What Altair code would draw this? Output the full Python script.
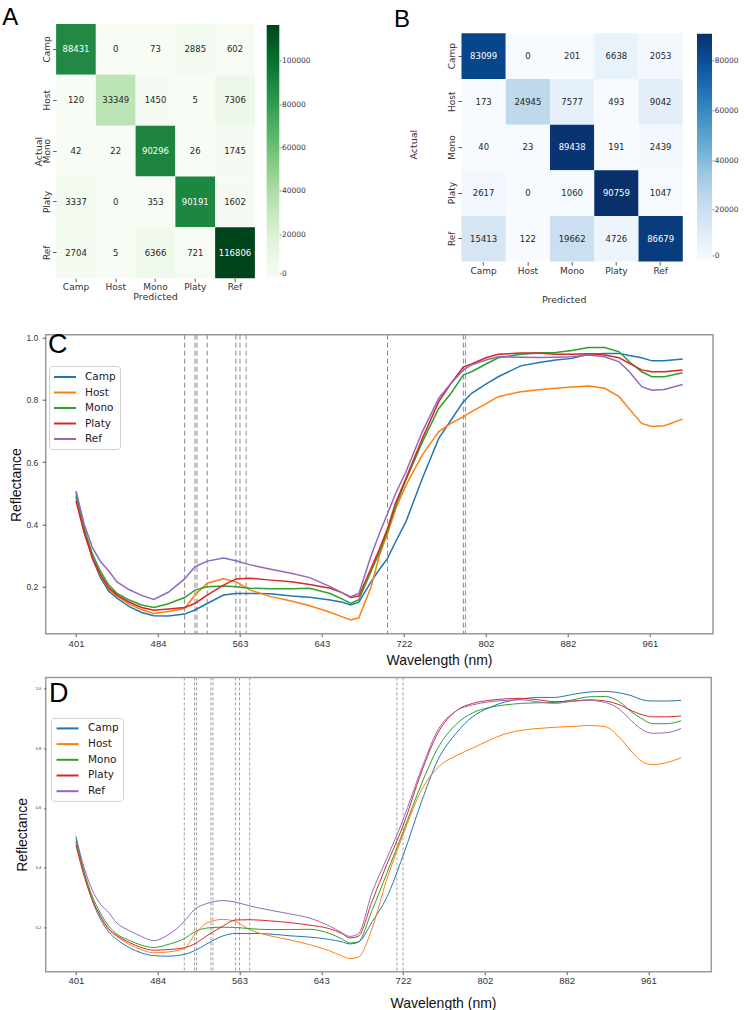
import altair as alt
import pandas as pd

# ---------------- data ----------------
classes = ["Camp", "Host", "Mono", "Platy", "Ref"]

cm_a = [
    [88431, 0, 73, 2885, 602],
    [120, 33349, 1450, 5, 7306],
    [42, 22, 90296, 26, 1745],
    [3337, 0, 353, 90191, 1602],
    [2704, 5, 6366, 721, 116806],
]
cm_b = [
    [83099, 0, 201, 6638, 2053],
    [173, 24945, 7577, 493, 9042],
    [40, 23, 89438, 191, 2439],
    [2617, 0, 1060, 90759, 1047],
    [15413, 122, 19662, 4726, 86679],
]
cbar_ticks_a = [0, 20000, 40000, 60000, 80000, 100000]
cbar_ticks_b = [0, 20000, 40000, 60000, 80000]

# ColorBrewer 9-class sequential ramps (matplotlib "Greens" / "Blues")
greens9 = ["#f7fcf5", "#e5f5e0", "#c7e9c0", "#a1d99b", "#74c476", "#41ab5d",
           "#238b45", "#006d2c", "#00441b"]
blues9 = ["#f7fbff", "#deebf7", "#c6dbef", "#9ecae1", "#6baed6", "#4292c6",
          "#2171b5", "#08519c", "#08306b"]

tab10 = ["#1f77b4", "#ff7f0e", "#2ca02c", "#d62728", "#9467bd"]

tick_bands = [0, 40, 80, 120, 160, 200, 240, 280]
tick_labels = ["401", "484", "563", "643", "722", "802", "882", "961"]
refl_ticks = [0.2, 0.4, 0.6, 0.8, 1.0]

# panel C (band index -> reflectance)
bands_c = [0, 4, 8, 12, 16, 20, 26, 32, 38, 45, 53, 58, 64, 72, 78, 85, 95, 105, 114,
           124, 130, 134, 138, 144, 148, 152, 156, 161, 169, 177, 183, 189, 193, 200,
           206, 217, 226, 234, 242, 250, 258, 265, 270, 276, 281, 287, 296]
c_camp = [.500, .385, .290, .228, .185, .163, .136, .117, .107,
          .106, .112, .125, .146, .173, .178, .178, .177, .170, .166,
          .157, .150, .141, .150, .216, .255, .291, .345, .409, .548,
          .676, .735, .794, .821, .850, .874, .909, .920, .928, .933,
          .946, .949, .949, .942, .935, .925, .925, .931]
c_host = [.485, .378, .295, .236, .192, .170, .144, .126, .114,
          .120, .130, .173, .211, .225, .216, .189, .168, .154, .139,
          .118, .103, .093, .100, .200, .300, .370, .450, .526, .623,
          .698, .724, .746, .762, .787, .810, .826, .832, .837, .841,
          .844, .837, .810, .770, .724, .714, .717, .738]
c_mono = [.490, .385, .305, .248, .205, .178, .157, .141, .133,
          .145, .165, .189, .200, .202, .200, .195, .193, .193, .195,
          .178, .160, .146, .158, .250, .310, .380, .460, .543, .665,
          .772, .821, .880, .890, .915, .935, .946, .950, .952, .958,
          .968, .968, .954, .922, .890, .874, .874, .887]
c_platy = [.475, .372, .292, .238, .196, .173, .150, .133, .124,
           .128, .133, .146, .173, .205, .225, .227, .221, .216, .207,
           .195, .180, .165, .170, .260, .320, .387, .470, .548, .676,
           .794, .853, .906, .915, .935, .946, .950, .950, .946, .946,
           .948, .944, .935, .917, .896, .890, .890, .896]
c_ref = [.507, .400, .325, .280, .250, .215, .190, .172, .159,
         .182, .225, .264, .282, .292, .283, .270, .256, .243, .229,
         .200, .180, .168, .178, .300, .370, .435, .500, .569, .698,
         .805, .853, .896, .912, .928, .938, .937, .936, .937, .938,
         .944, .938, .922, .890, .842, .831, .833, .849]
dash_c = [53, 58, 59, 64, 78, 80, 83, 152, 189, 190]

# panel D
bands_d = [0, 4, 8, 12, 16, 20, 26, 32, 38, 45, 53, 58, 64, 72, 78, 85, 95, 105, 114,
           124, 130, 134, 138, 145, 152, 160, 169, 177, 186, 194, 202, 210, 218, 226,
           234, 243, 251, 259, 266, 272, 277, 282, 289, 296]
d_camp = [.500, .385, .290, .228, .185, .160, .133, .115, .106,
          .104, .110, .122, .145, .172, .180, .180, .178, .172, .168,
          .160, .152, .145, .150, .220, .300, .440, .620, .760, .850,
          .905, .935, .955, .965, .970, .970, .980, .988, .990, .985,
          .975, .962, .958, .958, .960]
d_host = [.485, .378, .295, .236, .192, .170, .144, .126, .115,
          .118, .130, .175, .215, .227, .220, .193, .172, .158, .143,
          .122, .105, .096, .100, .200, .360, .510, .660, .735, .775,
          .800, .826, .848, .860, .866, .870, .873, .876, .872, .835,
          .787, .755, .745, .752, .768]
d_mono = [.490, .385, .305, .248, .205, .178, .157, .141, .133,
          .143, .163, .185, .198, .201, .200, .196, .193, .193, .194,
          .180, .162, .148, .152, .260, .380, .520, .680, .800, .880,
          .918, .936, .945, .950, .952, .953, .962, .972, .973, .955,
          .920, .898, .882, .882, .892]
d_platy = [.475, .372, .292, .238, .196, .173, .150, .133, .124,
           .126, .132, .145, .172, .205, .225, .226, .222, .216, .208,
           .196, .180, .165, .170, .290, .410, .540, .720, .850, .925,
           .950, .960, .965, .967, .962, .956, .958, .962, .958, .945,
           .925, .912, .905, .905, .908]
d_ref = [.505, .400, .325, .278, .250, .215, .190, .170, .156,
         .175, .220, .260, .280, .290, .285, .272, .258, .245, .232,
         .205, .183, .170, .178, .320, .430, .560, .730, .860, .925,
         .945, .955, .960, .962, .955, .950, .957, .960, .953, .930,
         .890, .862, .850, .852, .866]
dash_d = [53, 58, 59, 66, 67, 78, 80, 85, 157, 160]

# ---------------- helpers ----------------
DJ = "DejaVu Sans"
LIB = "Liberation Sans"


def panel_title(letter, offset, dx, size):
    return alt.TitleParams(text=letter, anchor="start", frame="group", orient="top",
                           offset=offset, dx=dx, baseline="alphabetic", font=LIB,
                           fontSize=size, fontWeight="normal", color="black")


def letter_axis(letter, tx, ty):
    return alt.Axis(orient="top", labels=False, ticks=False, domain=False,
                    title=letter, titleFont=LIB, titleFontSize=24,
                    titleFontWeight="normal", titleColor="black", titleX=tx,
                    titleY=ty, titleAlign="left", titleBaseline="alphabetic",
                    titleAngle=0)


def cm_frame(cm, field):
    rows = []
    for i, actual in enumerate(classes):
        for j, pred in enumerate(classes):
            rows.append({"Actual": actual, "Predicted": pred, field: cm[i][j]})
    return pd.DataFrame(rows)


def x_axis(offset, tx, ty, lab_pad):
    return alt.Axis(orient="bottom", offset=offset, title="Predicted", labelAngle=0,
                    domain=False, tickSize=3.5, tickColor="#333", tickWidth=0.8,
                    labelFont=DJ, labelFontSize=9, labelColor="#333",
                    labelPadding=lab_pad, titleFont=DJ, titleFontSize=9.5,
                    titleFontWeight="normal", titleColor="#333", titleX=tx, titleY=ty,
                    titleBaseline="middle")


def y_axis(offset, tx, ty, lab_pad):
    return alt.Axis(orient="left", offset=offset, title="Actual", labelAngle=270,
                    labelAlign="center", labelBaseline="bottom", domain=False,
                    tickSize=3.5, tickColor="#333", tickWidth=0.8, labelFont=DJ,
                    labelFontSize=9, labelColor="#333", labelPadding=lab_pad,
                    titleFont=DJ, titleFontSize=9.5, titleFontWeight="normal",
                    titleColor="#333", titleX=tx, titleY=ty, titleBaseline="middle",
                    titleAngle=270)


def cm_rect(df, field, ramp, vmax, ticks, xr, yr, xax, yax, lx, ly, llen, lthick):
    stops = [vmax * k / (len(ramp) - 1) for k in range(len(ramp))]
    return alt.Chart(df).mark_rect().encode(
        x=alt.X("Predicted:N", sort=classes, axis=xax, scale=alt.Scale(range=xr)),
        y=alt.Y("Actual:N", sort=classes, axis=yax, scale=alt.Scale(range=yr)),
        color=alt.Color(f"{field}:Q",
                        scale=alt.Scale(domain=stops, range=ramp, interpolate="rgb"),
                        legend=alt.Legend(title=None, orient="none", legendX=lx,
                                          legendY=ly, direction="vertical",
                                          gradientLength=llen,
                                          gradientThickness=lthick,
                                          gradientStrokeWidth=0, values=ticks,
                                          format="d", labelExpr="'-' + datum.label",
                                          labelFont=DJ, labelFontSize=7.5,
                                          labelColor="#333", labelOffset=0,
                                          padding=0)),
    )


def cm_text(df, field, vmax, xr, yr, xax, yax):
    return alt.Chart(df).mark_text(font=DJ, fontSize=8.5, baseline="middle").encode(
        x=alt.X("Predicted:N", sort=classes, axis=xax,
                scale=alt.Scale(type="band", range=xr)),
        y=alt.Y("Actual:N", sort=classes, axis=yax,
                scale=alt.Scale(type="band", range=yr)),
        text=alt.Text(f"{field}:Q", format="d"),
        color=alt.when(alt.datum[field] > vmax * 0.5)
        .then(alt.value("#ffffff"))
        .otherwise(alt.value("#262626")),
    )


ROW_W, ROW_H = 637.1, 266.4
xr_a, yr_a = [10.4, 209.2], [0, 254.2]
xr_b, yr_b = [415.8, 637.1], [9.3, 237.6]
df_a = cm_frame(cm_a, "count_a")
df_b = cm_frame(cm_b, "count_b")

row1 = (
    alt.layer(
        cm_rect(df_a, "count_a", greens9, 116806, cbar_ticks_a, xr_a, yr_a,
                x_axis(-(ROW_H - 254.2), 109.3, 17.9, 1), y_axis(-10.4, -17.8, 127.1, 1),
                221.0, 1.1, 252.7, 12.6),
        cm_text(df_a, "count_a", 116806, xr_a, yr_a, letter_axis("A", -44.0, 0.4), None),
        cm_rect(df_b, "count_b", blues9, 90759, cbar_ticks_b, xr_b, yr_b,
                x_axis(-(ROW_H - 237.6), 518.0, 37.5, 1.5),
                y_axis(-415.8, -47.8, 120.1, 1.5),
                651.3, 9.8, 226.6, 15),
        cm_text(df_b, "count_b", 90759, xr_b, yr_b, letter_axis("B", 347.8, 2.1), None),
    )
    .resolve_scale(x="independent", y="independent", color="independent")
    .properties(width=ROW_W, height=ROW_H)
)


def spectra(bands, series, dash, field, lw, interp, w, h, dom_y, ylab_size, ytick,
            ylab_pad, xlab_pad, ytitle_x, ytitle_y, xtitle_x, xtitle_y, leg_x, leg_y,
            leg_pad, sym_off, lab_off, row_pad, dash_style, dash_color, title):
    recs = []
    for cls, vals in zip(classes, series):
        for b, v in zip(bands, vals):
            recs.append({"band": b, field: cls, "refl": v})
    df = pd.DataFrame(recs)
    label_expr = ("[" + ",".join(f"'{t}'" for t in tick_labels) + "][indexof(["
                  + ",".join(str(t) for t in tick_bands) + "], datum.value)]")
    x_enc = alt.X("band:Q", scale=alt.Scale(domain=[-14.8, 310.8], nice=False, zero=False),
                  axis=alt.Axis(values=tick_bands, labelExpr=label_expr, grid=False,
                                domain=False, tickSize=3, tickColor="#555",
                                labelFont=LIB, labelFontSize=9.5, labelColor="#333",
                                labelPadding=xlab_pad, title="Wavelength (nm)",
                                titleFont=LIB, titleFontSize=14,
                                titleFontWeight="normal", titleColor="#111",
                                titleX=xtitle_x, titleY=xtitle_y,
                                titleBaseline="middle"))
    y_enc = alt.Y("refl:Q", scale=alt.Scale(domain=dom_y, nice=False, zero=False),
                  axis=alt.Axis(values=refl_ticks, format=".1f", grid=False,
                                domain=False, tickSize=ytick, tickColor="#555",
                                labelFont=LIB, labelFontSize=ylab_size,
                                labelColor="#333", labelPadding=ylab_pad,
                                title="Reflectance", titleFont=LIB, titleFontSize=14,
                                titleFontWeight="normal", titleColor="#111",
                                titleX=ytitle_x, titleY=ytitle_y,
                                titleBaseline="middle", titleAngle=270))
    rules = alt.Chart(pd.DataFrame({"band": dash})).mark_rule(
        color=dash_color, strokeDash=dash_style, strokeWidth=1
    ).encode(x=x_enc)
    lines = alt.Chart(df).mark_line(strokeWidth=lw, interpolate=interp).encode(
        x=x_enc, y=y_enc,
        color=alt.Color(f"{field}:N", scale=alt.Scale(domain=classes, range=tab10),
                        legend=alt.Legend(title=None, orient="none", legendX=leg_x,
                                          legendY=leg_y,
                                          symbolType="M-1.83,0L1.83,0",
                                          symbolSize=144, symbolStrokeWidth=2,
                                          symbolOffset=sym_off,
                                          labelFont=DJ, labelFontSize=10.5,
                                          labelColor="#222", labelOffset=lab_off,
                                          rowPadding=row_pad, padding=leg_pad,
                                          strokeColor="#d0d0d0", fillColor="white",
                                          cornerRadius=3)),
    )
    return alt.layer(rules, lines).properties(
        width=w, height=h, title=title,
        view=alt.ViewBackground(stroke="#9a9a9a", strokeWidth=1.5),
    )


chart_c = spectra(bands_c, [c_camp, c_host, c_mono, c_platy, c_ref], dash_c, "class_c",
                  1.5, "linear", 667.3, 299, [0.049, 1.009], 8.5, 3.5, 4.5, 2,
                  -28.7, 150, 393.3, 27, 3.3, 31.3, 4, 5, 13, 2.5, [5, 3], "#8a8a8a",
                  panel_title("C", -46.75, 2.3, 27))
chart_d = spectra(bands_d, [d_camp, d_host, d_mono, d_platy, d_ref], dash_d, "class_d",
                  1.0, "monotone", 665.6, 294.3, [0.052, 1.037], 4, 2, 3, 0.5,
                  -22.7, 157, 397.3, 32, 5.3, 40.5, 3.5, 6, 13.5, 2.7, [3, 2], "#a0a0a0",
                  panel_title("D", -51.75, 3.2, 27))

chart = (
    alt.vconcat(row1, chart_c, chart_d, spacing=43.7, bounds="flush")
    .resolve_scale(color="independent")
    .properties(padding={"left": 1.7, "top": 5, "right": 0, "bottom": 0},
                background="white")
    .configure_view(strokeWidth=0)
)

chart.save("out.html", embed_options={"renderer": "svg", "actions": False})
